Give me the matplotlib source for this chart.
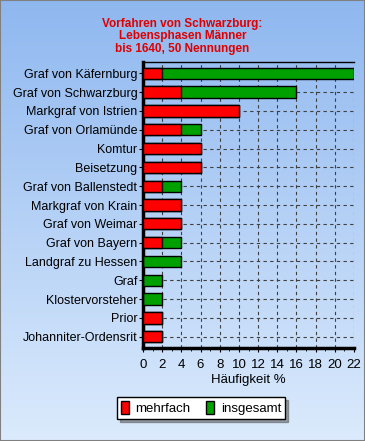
import matplotlib
matplotlib.use("Agg")
import matplotlib.pyplot as plt
import numpy as np
from matplotlib.patches import Patch, Rectangle
from matplotlib.ticker import MultipleLocator

plt.rcParams['font.family'] = ['Liberation Sans', 'DejaVu Sans']

categories = ["Graf von Käfernburg", "Graf von Schwarzburg", "Markgraf von Istrien",
              "Graf von Orlamünde", "Komtur", "Beisetzung", "Graf von Ballenstedt",
              "Markgraf von Krain", "Graf von Weimar", "Graf von Bayern",
              "Landgraf zu Hessen", "Graf", "Klostervorsteher", "Prior",
              "Johanniter-Ordensrit"]
mehrfach = [2, 4, 10, 4, 6, 6, 2, 4, 4, 2, 0, 0, 0, 2, 2]
insgesamt = [22, 16, 10, 6, 6, 6, 4, 4, 4, 4, 4, 2, 2, 2, 2]
title = "Vorfahren von Schwarzburg:\nLebensphasen Männer\nbis 1640, 50 Nennungen"

W, H = 365, 441
fig = plt.figure(figsize=(W/100, H/100), dpi=100)

# background gradient
bg = fig.add_axes([0, 0, 1, 1], zorder=-10)
top = np.array([0.56, 0.72, 0.94])
bot = np.array([0.86, 0.92, 0.99])
t = np.linspace(0, 1, 256)[:, None]
grad = top[None, :] * (1 - t) + bot[None, :] * t
bg.imshow(grad[:, None, :], aspect='auto', extent=[0, 1, 0, 1])
bg.set_axis_off()
bg.add_patch(Rectangle((0, 0), 1, 1, transform=bg.transAxes, fill=False,
                       edgecolor='#808080', linewidth=1.5))

left, right, topy, boty = 143, 354, 62, 348
ax = fig.add_axes([left/W, 1 - boty/H, (right-left)/W, (boty-topy)/H])
ax.patch.set_alpha(0)

y = np.arange(len(categories))
ax.barh(y, insgesamt, height=0.6, color='#00a000', edgecolor='black', linewidth=1, zorder=3)
ax.barh(y, mehrfach, height=0.6, color='#ff0000', edgecolor='black', linewidth=1, zorder=4)

ax.set_ylim(len(categories) - 0.4, -0.6)
ax.set_xlim(0, 22)
ax.set_yticks(y)
ax.set_yticklabels(categories, fontsize=9)
ax.xaxis.set_major_locator(MultipleLocator(2))
ax.xaxis.set_minor_locator(MultipleLocator(1))
ax.tick_params(axis='x', labelsize=9.5, length=3, direction='out', pad=5)
ax.tick_params(axis='x', which='minor', length=2)
ax.tick_params(axis='y', length=3, pad=1)
ax.grid(True, which='major', linestyle=(0, (3, 3)), color='#404040', linewidth=0.8, zorder=0)
ax.set_axisbelow(True)
for s in ['left', 'bottom']:
    ax.spines[s].set_linewidth(2.5)
ax.spines['right'].set_visible(False)
ax.spines['top'].set_linewidth(1)
ax.set_xlabel("Häufigkeit %", fontsize=9.5, labelpad=2)

fig.text(0.5, 1 - 18/H, title, ha='center', va='top', color='#e00000',
         fontsize=8.5, fontweight='bold', linespacing=1.05)

handles = [Patch(facecolor='#ff0000', edgecolor='black', label='mehrfach'),
           Patch(facecolor='#00a000', edgecolor='black', label='insgesamt')]
leg = fig.legend(handles=handles, loc='center', bbox_to_anchor=(201/W, 1 - 408/H),
                 ncol=2, fontsize=9.5, frameon=True, fancybox=False, shadow=True,
                 handlelength=0.6, handleheight=1.1, handletextpad=0.5,
                 columnspacing=1.2, borderpad=0.3, borderaxespad=0)
leg.get_frame().set_edgecolor('black')
leg.get_frame().set_facecolor('white')
leg.get_frame().set_alpha(1)

fig.savefig("out.png", dpi=100)
